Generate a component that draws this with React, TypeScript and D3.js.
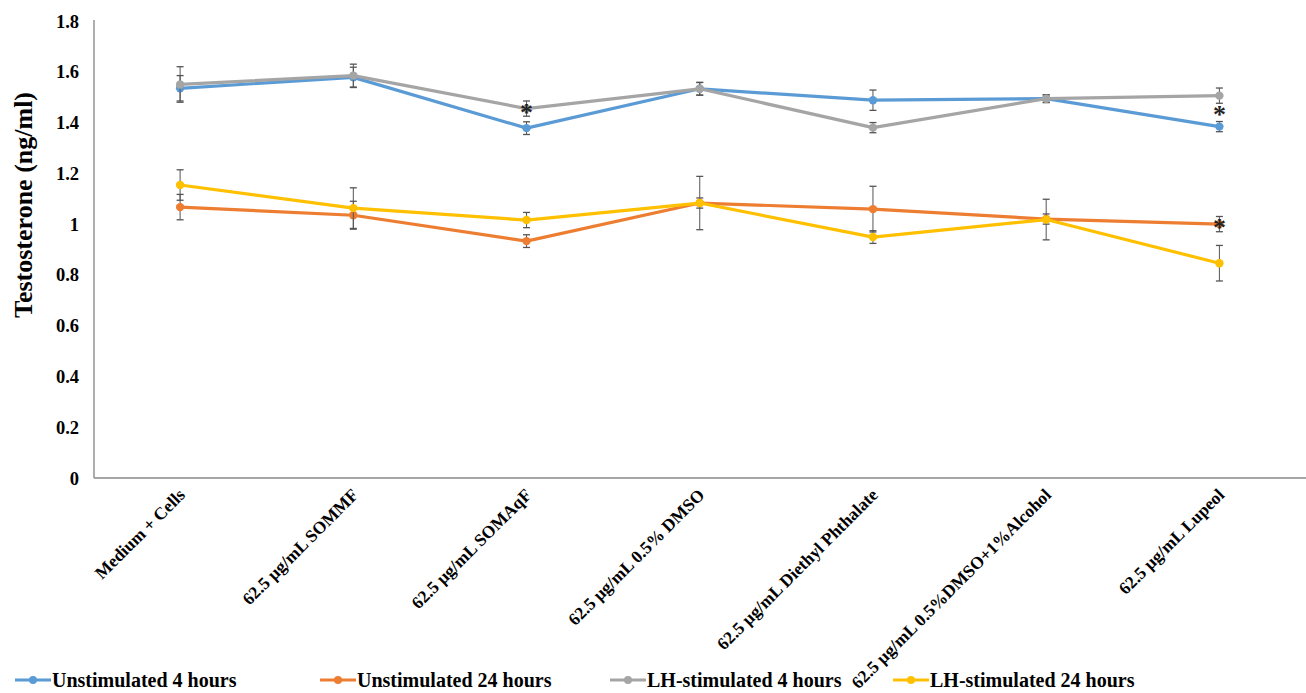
import React, { useRef, useEffect } from 'react';
import * as d3 from 'd3';

const categories = [
  'Medium + Cells',
  '62.5 µg/mL SOMMF',
  '62.5 µg/mL SOMAqF',
  '62.5 µg/mL 0.5% DMSO',
  '62.5 µg/mL Diethyl Phthalate',
  '62.5 µg/mL 0.5%DMSO+1%Alcohol',
  '62.5 µg/mL Lupeol',
];

const seriesNames = ['Unstimulated 4 hours', 'Unstimulated 24 hours', 'LH-stimulated 4 hours', 'LH-stimulated 24 hours'];
const seriesColors = ['#5b9bd5', '#ed7d31', '#a5a5a5', '#ffc000'];

const unstim4 = [1.535, 1.578, 1.378, 1.533, 1.488, 1.494, 1.384];
const unstim24 = [1.067, 1.035, 0.933, 1.083, 1.059, 1.02, 1.0];
const lh4 = [1.55, 1.585, 1.455, 1.533, 1.38, 1.494, 1.506];
const lh24 = [1.154, 1.063, 1.016, 1.083, 0.949, 1.018, 0.846];

const unstim4Err = [0.05, 0.04, 0.025, 0.025, 0.04, 0.015, 0.02];
const unstim24Err = [0.05, 0.055, 0.025, 0.02, 0.09, 0.02, 0.03];
const lh4Err = [0.07, 0.045, 0.03, 0.025, 0.02, 0.015, 0.03];
const lh24Err = [0.06, 0.08, 0.03, 0.105, 0.025, 0.08, 0.07];

const yTicks = [0, 0.2, 0.4, 0.6, 0.8, 1, 1.2, 1.4, 1.6, 1.8];

// significance marks: category index, value
const stars = [
  { i: 2, v: 1.455 },
  { i: 6, v: 1.445 },
  { i: 6, v: 1.0 },
];

const W = 1306;
const H = 693;

const App = () => {
  const svgRef = useRef(null);

  useEffect(() => {
    const svg = d3.select(svgRef.current);
    svg.selectAll('*').remove();
    const font = '"Liberation Serif", "Times New Roman", serif';

    const x = d3.scaleBand().domain(categories).range([93.5, 1306]);
    const y = d3.scaleLinear().domain([0, 1.8]).range([478, 21]);
    const cx = (c) => x(c) + x.bandwidth() / 2;

    const series = [
      { name: seriesNames[0], color: seriesColors[0], vals: unstim4, err: unstim4Err },
      { name: seriesNames[1], color: seriesColors[1], vals: unstim24, err: unstim24Err },
      { name: seriesNames[2], color: seriesColors[2], vals: lh4, err: lh4Err },
      { name: seriesNames[3], color: seriesColors[3], vals: lh24, err: lh24Err },
    ];

    // axes
    svg.append('line')
      .attr('x1', 94).attr('x2', 94).attr('y1', 20).attr('y2', 478)
      .attr('stroke', '#777').attr('stroke-width', 1.2);
    svg.append('line')
      .attr('x1', 94).attr('x2', 1306).attr('y1', 478).attr('y2', 478)
      .attr('stroke', '#888').attr('stroke-width', 1.5);

    svg.append('g').selectAll('text')
      .data(yTicks)
      .join('text')
      .attr('x', 79)
      .attr('y', d => y(d) + 6.5)
      .attr('text-anchor', 'end')
      .style('font-family', font)
      .style('font-weight', 'bold')
      .style('font-size', '18.5px')
      .text(d => String(+d.toFixed(1)));

    svg.append('text')
      .attr('transform', 'translate(32, 205) rotate(-90)')
      .attr('text-anchor', 'middle')
      .style('font-family', font)
      .style('font-weight', 'bold')
      .style('font-size', '26px')
      .text('Testosterone (ng/ml)');

    // x labels
    svg.append('g').selectAll('text')
      .data(categories)
      .join('text')
      .attr('transform', d => `translate(${cx(d) + 6}, 496) rotate(-45)`)
      .attr('text-anchor', 'end')
      .style('font-family', font)
      .style('font-weight', 'bold')
      .style('font-size', '17.5px')
      .text(d => d);

    const line = d3.line().x((d, i) => cx(categories[i])).y(d => y(d));

    series.forEach(s => {
      const g = svg.append('g');
      g.append('path')
        .attr('d', line(s.vals))
        .attr('fill', 'none')
        .attr('stroke', s.color)
        .attr('stroke-width', 3.2)
        .attr('stroke-linejoin', 'round');
      // error bars
      s.vals.forEach((v, i) => {
        const px = cx(categories[i]);
        const e = s.err[i];
        g.append('line')
          .attr('x1', px).attr('x2', px)
          .attr('y1', y(v + e)).attr('y2', y(v - e))
          .attr('stroke', '#555').attr('stroke-width', 1);
        [v + e, v - e].forEach(t => {
          g.append('line')
            .attr('x1', px - 3.5).attr('x2', px + 3.5)
            .attr('y1', y(t)).attr('y2', y(t))
            .attr('stroke', '#555').attr('stroke-width', 1.3);
        });
      });
      g.selectAll('circle')
        .data(s.vals)
        .join('circle')
        .attr('cx', (d, i) => cx(categories[i]))
        .attr('cy', d => y(d))
        .attr('r', 4.2)
        .attr('fill', s.color);
    });

    // asterisks
    svg.append('g').selectAll('text')
      .data(stars)
      .join('text')
      .attr('x', d => cx(categories[d.i]))
      .attr('y', d => y(d.v) + 12)
      .attr('text-anchor', 'middle')
      .style('font-family', font)
      .style('font-weight', 'bold')
      .style('font-size', '26px')
      .attr('fill', '#222')
      .text('*');

    // legend
    const legendX = [15, 320, 610, 893];
    series.forEach((s, i) => {
      const g = svg.append('g').attr('transform', `translate(${legendX[i]}, 680)`);
      g.append('line')
        .attr('x1', 0).attr('x2', 36).attr('y1', 0).attr('y2', 0)
        .attr('stroke', s.color).attr('stroke-width', 3);
      g.append('circle').attr('cx', 18).attr('cy', 0).attr('r', 4).attr('fill', s.color);
      g.append('text')
        .attr('x', 37)
        .attr('y', 7)
        .style('font-family', font)
        .style('font-weight', 'bold')
        .style('font-size', '20px')
        .text(s.name);
    });
  }, []);

  return (
    <svg
      ref={svgRef}
      width={W}
      height={H}
      style={{ position: 'absolute', left: 0, top: 0, background: '#fff' }}
    />
  );
};

export default App;
